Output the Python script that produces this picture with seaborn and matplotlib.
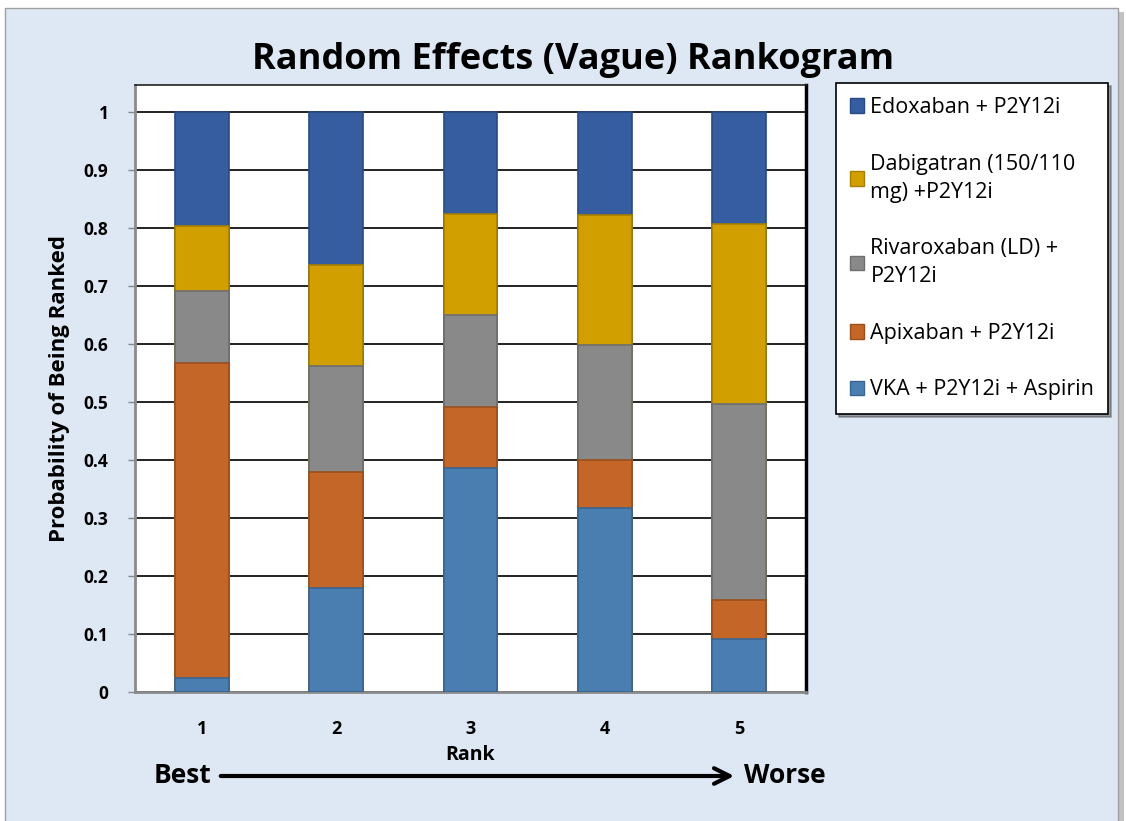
import numpy as np
import pandas as pd
import matplotlib
matplotlib.use("Agg")
import matplotlib.pyplot as plt
import seaborn as sns
from matplotlib.patches import Patch, Rectangle
from matplotlib.ticker import FixedLocator, FuncFormatter

# ---- data ----
ranks = ["1", "2", "3", "4", "5"]
vka = [0.025, 0.180, 0.387, 0.317, 0.091]
apixaban = [0.543, 0.200, 0.104, 0.083, 0.068]
rivaroxaban = [0.124, 0.182, 0.159, 0.198, 0.338]
dabigatran = [0.111, 0.175, 0.174, 0.225, 0.310]
edoxaban = [0.197, 0.263, 0.176, 0.177, 0.193]

series_names = ["VKA + P2Y12i + Aspirin", "Apixaban + P2Y12i",
                "Rivaroxaban (LD) +\nP2Y12i", "Dabigatran (150/110\nmg) +P2Y12i",
                "Edoxaban + P2Y12i"]
series_vals = [vka, apixaban, rivaroxaban, dabigatran, edoxaban]
fill_colors = ["#4a7eb0", "#c36628", "#898989", "#d19f00", "#365da0"]
edge_colors = ["#3a6590", "#9c4f1c", "#6e6e6e", "#a67e00", "#284a82"]

sns.set_theme(style="white")
plt.rcParams['font.family'] = ['Open Sans', 'DejaVu Sans']
plt.rcParams['text.color'] = 'black'
plt.rcParams['axes.labelcolor'] = 'black'
plt.rcParams['xtick.color'] = 'black'
plt.rcParams['ytick.color'] = 'black'

fig = plt.figure(figsize=(11.26, 8.21), dpi=100)
fig.patch.set_facecolor("white")
W, H = 1126, 821
# outer panel with shadow
fig.patches.append(Rectangle((9 / W, -0.01), 1115 / W, 1 - 12 / H + 0.01, transform=fig.transFigure,
                             facecolor="#9a9a9a", edgecolor="none", zorder=-20, alpha=0.6))
fig.patches.append(Rectangle((5 / W, -0.01), 1113 / W, 1 - 8 / H + 0.01, transform=fig.transFigure,
                             facecolor="#dde8f4", edgecolor="#a0a0a0", lw=1, zorder=-10))

ax = fig.add_axes([135 / W, 1 - 692 / H, 671 / W, 607 / H])
ax.set_facecolor("white")

# stacked bars (cumulative, drawn from top series down)
cum = np.cumsum(np.array(series_vals), axis=0)
for i in range(len(series_vals) - 1, -1, -1):
    df = pd.DataFrame({"rank": ranks, "value": cum[i]})
    sns.barplot(data=df, x="rank", y="value", ax=ax, color=fill_colors[i],
                saturation=1, width=0.4, edgecolor=edge_colors[i], linewidth=1.2, zorder=3)

ax.set_xlim(-0.5, 4.5)
ax.set_ylim(0, 1.047)
yt = np.round(np.arange(0, 1.01, 0.1), 1)
ax.yaxis.set_major_locator(FixedLocator(yt))
ax.yaxis.set_major_formatter(FuncFormatter(lambda v, p: "0" if v == 0 else ("1" if v == 1 else f"{v:.1f}")))
ax.grid(axis="y", color="#222222", lw=1.4, zorder=0)
ax.set_axisbelow(True)

# x ticks: labels at centers, marks at boundaries
ax.set_xticks(range(5))
ax.set_xticklabels(ranks)
ax.tick_params(axis="x", which="major", length=0, pad=20, labelsize=13)
ax.set_xticks([-0.5, 0.5, 1.5, 2.5, 3.5, 4.5], minor=True)
ax.tick_params(axis="x", which="minor", length=6, width=1.2, color="#888888", direction="out")
ax.tick_params(axis="y", length=5, width=1, color="#888888", pad=14, labelsize=12.5, left=True)
for lab in ax.get_xticklabels() + ax.get_yticklabels():
    lab.set_fontweight("bold")

for s in ["left", "bottom"]:
    ax.spines[s].set_color("#8a8a8a")
    ax.spines[s].set_linewidth(2)
ax.spines["top"].set_color("#222222")
ax.spines["top"].set_linewidth(1.2)
ax.spines["right"].set_color("#000000")
ax.spines["right"].set_linewidth(2.5)

ax.set_xlabel("Rank", fontsize=14, fontweight="bold", labelpad=5)
ax.set_ylabel("Probability of Being Ranked", fontsize=16, fontweight="bold", labelpad=10)

fig.text(573 / W, 1 - 60 / H, "Random Effects (Vague) Rankogram", ha="center", va="center",
         fontsize=26, fontweight="bold")

# Best -> Worse arrow
fig.text(182 / W, 1 - 775 / H, "Best", ha="center", va="center", fontsize=19, fontweight="bold")
fig.text(785 / W, 1 - 775 / H, "Worse", ha="center", va="center", fontsize=19, fontweight="bold")
ax.annotate("", xy=(737 / W, 1 - 776 / H), xytext=(218 / W, 1 - 776 / H),
            xycoords="figure fraction", textcoords="figure fraction", annotation_clip=False,
            arrowprops=dict(arrowstyle="->", lw=3, color="black", mutation_scale=28))

# legend (top entry first)
handles = [Patch(facecolor=fill_colors[i], edgecolor=edge_colors[i]) for i in range(4, -1, -1)]
labels = [series_names[i] for i in range(4, -1, -1)]
leg = fig.legend(handles, labels, loc="upper left", bbox_to_anchor=(836 / W, 1 - 83 / H),
                 frameon=True, fancybox=False, shadow=True, fontsize=15.5,
                 handlelength=0.65, handleheight=0.65, handletextpad=0.3,
                 labelspacing=1.65, borderpad=0.65, borderaxespad=0)
for t in leg.get_texts():
    t.set_linespacing(1.45)
leg.get_frame().set_edgecolor("black")
leg.get_frame().set_linewidth(1.2)
leg.get_frame().set_facecolor("white")

fig.savefig("out.png", dpi=100)
